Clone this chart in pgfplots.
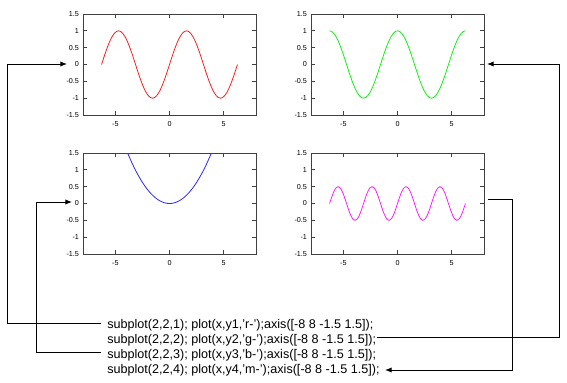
\documentclass[border=0pt]{standalone}
\usepackage{pgfplots}
\pgfplotsset{compat=1.18}
\usepackage{pgfplotstable}
\usepackage{fontspec}
\setmainfont{Liberation Sans}
\usetikzlibrary{arrows.meta}

\definecolor{mred}{RGB}{255,30,30}
\definecolor{mgreen}{RGB}{20,240,20}
\definecolor{mblue}{RGB}{40,40,255}
\definecolor{mmag}{RGB}{255,30,255}

\pgfplotstableread{
x y1 y2 y3 y4
-6.2832 0 1 3.9478 0
-6.0868 0.1951 0.9808 3.7049 0.1913
-5.8905 0.3827 0.9239 3.4698 0.3536
-5.6941 0.5556 0.8315 3.2423 0.4619
-5.4978 0.7071 0.7071 3.0226 0.5
-5.3014 0.8315 0.5556 2.8105 0.4619
-5.1051 0.9239 0.3827 2.6062 0.3536
-4.9087 0.9808 0.1951 2.4095 0.1913
-4.7124 1 0 2.2207 0
-4.5160 0.9808 -0.1951 2.0394 -0.1913
-4.3197 0.9239 -0.3827 1.8660 -0.3536
-4.1233 0.8315 -0.5556 1.7002 -0.4619
-3.9270 0.7071 -0.7071 1.5421 -0.5
-3.7306 0.5556 -0.8315 1.3917 -0.4619
-3.5343 0.3827 -0.9239 1.2491 -0.3536
-3.3379 0.1951 -0.9808 1.1142 -0.1913
-3.1416 0 -1 0.9870 0
-2.9452 -0.1951 -0.9808 0.8674 0.1913
-2.7489 -0.3827 -0.9239 0.7557 0.3536
-2.5525 -0.5556 -0.8315 0.6515 0.4619
-2.3562 -0.7071 -0.7071 0.5552 0.5
-2.1598 -0.8315 -0.5556 0.4665 0.4619
-1.9635 -0.9239 -0.3827 0.3855 0.3536
-1.7671 -0.9808 -0.1951 0.3123 0.1913
-1.5708 -1 0 0.2467 0
-1.3744 -0.9808 0.1951 0.1889 -0.1913
-1.1781 -0.9239 0.3827 0.1388 -0.3536
-0.9817 -0.8315 0.5556 0.0964 -0.4619
-0.7854 -0.7071 0.7071 0.0617 -0.5
-0.5890 -0.5556 0.8315 0.0347 -0.4619
-0.3927 -0.3827 0.9239 0.0154 -0.3536
-0.1963 -0.1951 0.9808 0.0039 -0.1913
0 0 1 0 0
0.1963 0.1951 0.9808 0.0039 0.1913
0.3927 0.3827 0.9239 0.0154 0.3536
0.5890 0.5556 0.8315 0.0347 0.4619
0.7854 0.7071 0.7071 0.0617 0.5
0.9817 0.8315 0.5556 0.0964 0.4619
1.1781 0.9239 0.3827 0.1388 0.3536
1.3744 0.9808 0.1951 0.1889 0.1913
1.5708 1 0 0.2467 0
1.7671 0.9808 -0.1951 0.3123 -0.1913
1.9635 0.9239 -0.3827 0.3855 -0.3536
2.1598 0.8315 -0.5556 0.4665 -0.4619
2.3562 0.7071 -0.7071 0.5552 -0.5
2.5525 0.5556 -0.8315 0.6515 -0.4619
2.7489 0.3827 -0.9239 0.7557 -0.3536
2.9452 0.1951 -0.9808 0.8674 -0.1913
3.1416 0 -1 0.9870 0
3.3379 -0.1951 -0.9808 1.1142 0.1913
3.5343 -0.3827 -0.9239 1.2491 0.3536
3.7306 -0.5556 -0.8315 1.3917 0.4619
3.9270 -0.7071 -0.7071 1.5421 0.5
4.1233 -0.8315 -0.5556 1.7002 0.4619
4.3197 -0.9239 -0.3827 1.8660 0.3536
4.5160 -0.9808 -0.1951 2.0394 0.1913
4.7124 -1 0 2.2207 0
4.9087 -0.9808 0.1951 2.4095 -0.1913
5.1051 -0.9239 0.3827 2.6062 -0.3536
5.3014 -0.8315 0.5556 2.8105 -0.4619
5.4978 -0.7071 0.7071 3.0226 -0.5
5.6941 -0.5556 0.8315 3.2423 -0.4619
5.8905 -0.3827 0.9239 3.4698 -0.3536
6.0868 -0.1951 0.9808 3.7049 -0.1913
6.2832 0 1 3.9478 0
}\datatable

\pgfplotsset{
  sub/.style={
    width=129.75pt, height=75.75pt, scale only axis,
    xmin=-8, xmax=8, ymin=-1.5, ymax=1.5,
    xtick={-5,0,5},
    ytick={-1.5,-1,-0.5,0,0.5,1,1.5},
    yticklabels={-1.5,-1,-0.5,0,0.5,1,1.5},
    xticklabels={-5,0,5},
    tick align=inside,
    xtick pos=both, ytick pos=both,
    xticklabel pos=left, yticklabel pos=left,
    major tick length=3pt,
    tick style={black!75, line width=0.6pt},
    axis line style={black!75, line width=0.75pt},
    tick label style={font=\fontsize{5.4}{6}\selectfont},
    /pgf/number format/assume math mode=true,
    yticklabel style={xshift=0.5pt},
    xticklabel style={yshift=-1pt},
    anchor=south west,
  }
}

\begin{document}
\begin{tikzpicture}[x=0.75pt, y=0.75pt]
\path[use as bounding box] (0,0) rectangle (567,-382);

\begin{axis}[sub, at={(62.25pt,-86.25pt)}]
\addplot[mred, line width=0.6pt, smooth] table[x=x, y=y1] {\datatable};
\end{axis}
\begin{axis}[sub, at={(233.25pt,-86.25pt)}]
\addplot[mgreen, line width=0.6pt, smooth] table[x=x, y=y2] {\datatable};
\end{axis}
\begin{axis}[sub, at={(62.25pt,-190.5pt)}]
\addplot[mblue, line width=0.6pt, smooth] table[x=x, y=y3] {\datatable};
\end{axis}
\begin{axis}[sub, at={(233.25pt,-190.5pt)}]
\addplot[mmag, line width=0.6pt, smooth] table[x=x, y=y4] {\datatable};
\end{axis}

\begin{scope}[font=\fontsize{9.45}{11}\selectfont]
\node[anchor=base west, inner sep=0pt] at (107,-328.5) {subplot(2,2,1); plot(x,y1,'r-');axis([-8 8 -1.5 1.5]);};
\node[anchor=base west, inner sep=0pt] at (107,-343.5) {subplot(2,2,2); plot(x,y2,'g-');axis([-8 8 -1.5 1.5]);};
\node[anchor=base west, inner sep=0pt] at (107,-358.5) {subplot(2,2,3); plot(x,y3,'b-');axis([-8 8 -1.5 1.5]);};
\node[anchor=base west, inner sep=0pt] at (107,-373.5) {subplot(2,2,4); plot(x,y4,'m-');axis([-8 8 -1.5 1.5]);};
\end{scope}

\begin{scope}[line width=0.75pt, -{Latex[length=5pt,width=4pt]}]
\draw (101,-323) -- (7,-323) -- (7,-64) -- (67,-64);
\draw (377,-337) -- (559,-337) -- (559,-64) -- (487,-64);
\draw (101,-352) -- (36,-352) -- (36,-202) -- (72,-202);
\draw (488,-199) -- (512,-199) -- (512,-370) -- (385,-370);
\end{scope}
\end{tikzpicture}
\end{document}
